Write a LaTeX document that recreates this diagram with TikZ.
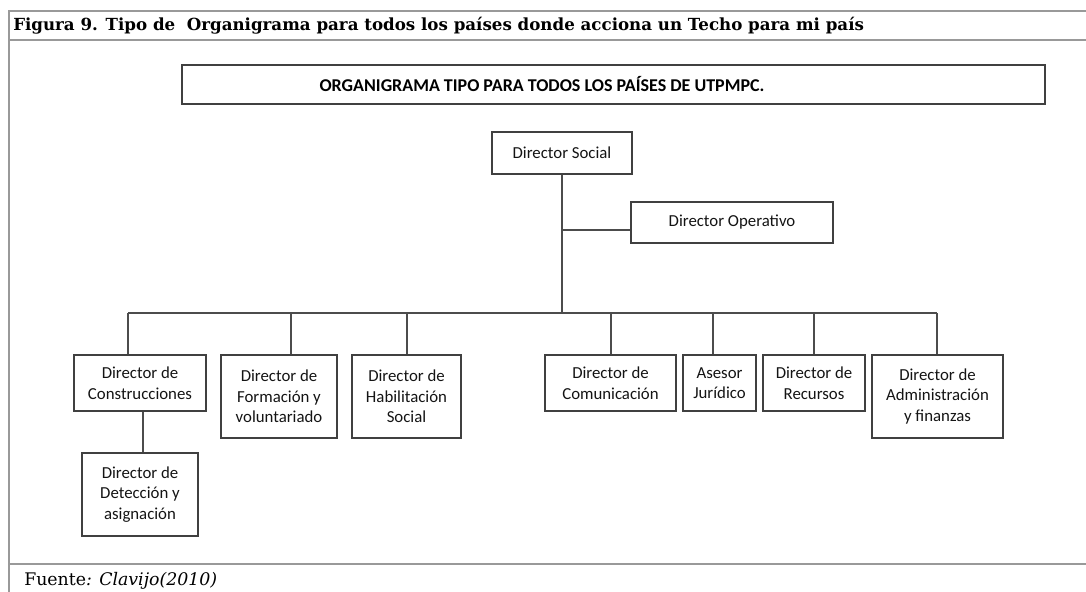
\documentclass[tikz,border=0pt]{standalone}
\usepackage{fontspec}
\setmainfont{Carlito}
\newfontfamily\ttlfont{DejaVu Serif}
\begin{document}
\begin{tikzpicture}[x=0.75pt,y=-0.75pt,
  frame/.style={draw=black!40, line width=1.5pt},
  box/.style={draw=black!75, line width=0.9pt, fill=white, align=center, inner sep=1pt,
    font=\fontsize{12.6}{15.4}\selectfont, text=black!92},
  link/.style={draw=black!70, line width=0.8pt}]
\useasboundingbox (0,0) rectangle (1086,592);
% frame
\draw[frame] (1086,11) -- (9,11) -- (9,592);
\draw[frame] (9,40.5) -- (1086,40.5);
\draw[frame] (9,563.5) -- (1086,563.5);
\node[anchor=base west, inner sep=0pt, font=\ttlfont\bfseries\fontsize{12.5}{15}\selectfont] (title) at (13,31)
  {Figura 9. Tipo de~\ Organigrama para todos los países donde acciona un Techo para mi país};
\node[anchor=base west, inner sep=0pt, font=\ttlfont\fontsize{13}{15}\selectfont] (src) at (24,585)
  {Fuente\textit{: Clavijo(2010)}};
% header
\node[draw=black!75, line width=0.9pt, minimum width=647.25pt, minimum height=29.25pt] (hdr) at (613.5,84.5) {};
\node[font=\bfseries\fontsize{13.5}{15}\selectfont, text=black, inner sep=0pt] (hdrtxt) at (542,84) {ORGANIGRAMA TIPO PARA TODOS LOS PAÍSES DE UTPMPC.};
% boxes
\node[box, minimum width=105pt, minimum height=31.5pt] (social) at (562,153) {Director Social};
\node[box, minimum width=151.5pt, minimum height=30.75pt] (oper) at (732,222.5) {Director Operativo};
\node[box, minimum width=99pt, minimum height=42pt] (constr) at (140,383) {Director de\\Construcciones};
\node[box, minimum width=87pt, minimum height=62.25pt] (formac) at (279,396.5) {Director de\\Formación y\\voluntariado};
\node[box, minimum width=81.75pt, minimum height=62.25pt] (habil) at (406.5,396.5) {Director de\\Habilitación\\Social};
\node[box, minimum width=87pt, minimum height=62.25pt] (detec) at (140,494.5) {Director de\\Detección y\\asignación};
\node[box, minimum width=98.25pt, minimum height=42pt] (comun) at (610.5,383) {Director de\\Comunicación};
\node[box, minimum width=54.75pt, minimum height=42pt] (asesor) at (719.5,383) {Asesor\\Jurídico};
\node[box, minimum width=76.5pt, minimum height=42pt] (recur) at (814,383) {Director de\\Recursos};
\node[box, minimum width=98.25pt, minimum height=62.25pt] (admin) at (937.5,396.5) {Director de\\Administración\\y finanzas};
% bus coordinates
\coordinate (bmain) at (562,313);
\coordinate (jop) at (562,230);
\coordinate (b1) at (128,313);
\coordinate (b2) at (291,313);
\coordinate (b3) at (407,313);
\coordinate (b4) at (611,313);
\coordinate (b5) at (713,313);
\coordinate (b6) at (814,313);
\coordinate (b7) at (937,313);
% connectors
\draw[link] (social.south) -- (bmain);
\draw[link] (jop) -- (jop -| oper.west);
\draw[link] (b1) -- (b7);
\draw[link] (b1) -- (b1 |- constr.north);
\draw[link] (b2) -- (b2 |- formac.north);
\draw[link] (b3) -- (b3 |- habil.north);
\draw[link] (b4) -- (b4 |- comun.north);
\draw[link] (b5) -- (b5 |- asesor.north);
\draw[link] (b6) -- (b6 |- recur.north);
\draw[link] (b7) -- (b7 |- admin.north);
\draw[link] ([xshift=2.25pt]constr.south) -- ([xshift=2.25pt]detec.north);
\end{tikzpicture}
\end{document}
